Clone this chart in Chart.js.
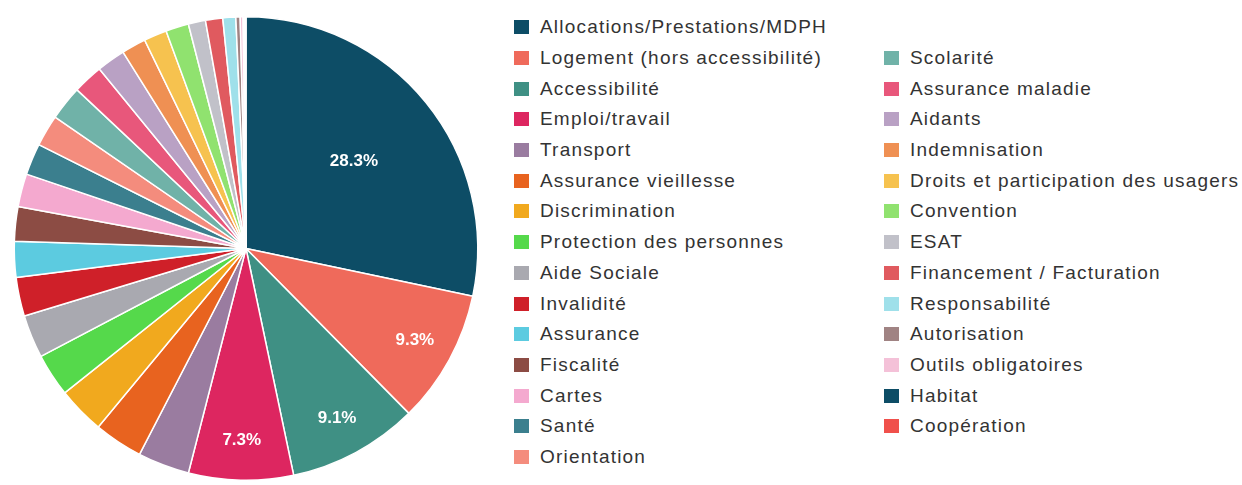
<!DOCTYPE html>
<html>
<head>
<meta charset="utf-8">
<script src="https://cdn.jsdelivr.net/npm/chart.js@4.4.1/dist/chart.umd.min.js"></script>
<style>
  html, body { margin: 0; padding: 0; background: #fff; }
  body { width: 1242px; height: 485px; position: relative; overflow: hidden;
         font-family: "Liberation Sans", Arial, sans-serif; }
  #pie-wrap { position: absolute; left: 0; top: 0; width: 492px; height: 485px; }
  .legend-col { position: absolute; margin: 0; padding: 0; list-style: none; }
  .legend-col li { height: 30.7px; display: flex; align-items: center;
                   font-size: 19px; letter-spacing: 1.2px; color: #333; white-space: nowrap; }
  .legend-col .box { width: 15px; height: 14px; margin-right: 11px; flex: none; }
</style>
</head>
<body>
<div id="pie-wrap"><canvas id="pie"></canvas></div>
<ul class="legend-col" id="col1" style="left:514px; top:12px;"></ul>
<ul class="legend-col" id="col2" style="left:884px; top:42.7px;"></ul>
<script>
// catégories (sens horaire depuis midi)
const categories = [
    'Allocations/Prestations/MDPH', 'Logement (hors accessibilité)', 'Accessibilité',
    'Emploi/travail', 'Transport', 'Assurance vieillesse', 'Discrimination',
    'Protection des personnes', 'Aide Sociale', 'Invalidité', 'Assurance', 'Fiscalité',
    'Cartes', 'Santé', 'Orientation', 'Scolarité', 'Assurance maladie', 'Aidants',
    'Indemnisation', 'Droits et participation des usagers', 'Convention', 'ESAT',
    'Financement / Facturation', 'Responsabilité', 'Autorisation', 'Outils obligatoires',
    'Habitat', 'Coopération'
];

// parts en %
const shares = [
    28.3, 9.3, 9.1, 7.3, 3.6, 3.4, 3.3,
    3.0, 3.0, 2.7, 2.5, 2.4,
    2.3, 2.2, 2.2, 2.4, 2.1, 2.0,
    1.7, 1.6, 1.6, 1.2,
    1.2, 0.9, 0.3, 0.2,
    0.1, 0.1
];

const colors = [
    '#0d4d66', '#ef6a5b', '#3f9084', '#dd2660', '#9a7ca0', '#e8631f', '#f1a91e',
    '#55d94b', '#a9a9b0', '#cf2029', '#5ccbe0', '#8c4c44',
    '#f4a9cf', '#3b7f8e', '#f48c7d', '#70b2a8', '#e8577b', '#b9a1c4',
    '#ef9053', '#f6c24f', '#90e26f', '#c1c1c9',
    '#e05a5f', '#9fe0ea', '#a08383', '#f4c1d8',
    '#0d4d66', '#f0504b'
];

// seules les 4 plus grosses parts ont une étiquette
const labelledCount = 4;

// étiquettes % blanches dans les parts
const pctLabels = {
    id: 'pctLabels',
    afterDatasetsDraw(chart) {
        const ctx = chart.ctx;
        const arcs = chart.getDatasetMeta(0).data;
        ctx.save();
        ctx.fillStyle = '#ffffff';
        ctx.font = 'bold 17px "Liberation Sans", Arial, sans-serif';
        ctx.textAlign = 'center';
        ctx.textBaseline = 'middle';
        for (let i = 0; i < labelledCount; i++) {
            const a = arcs[i];
            const mid = (a.startAngle + a.endAngle) / 2;
            const r = a.outerRadius * (i === 0 ? 0.6 : 0.83);
            ctx.fillText(shares[i].toFixed(1) + '%',
                a.x + Math.cos(mid) * r, a.y + Math.sin(mid) * r);
        }
        ctx.restore();
    }
};

const chart = new Chart(document.getElementById('pie').getContext('2d'), {
    type: 'pie',
    data: {
        labels: categories,
        datasets: [{
            data: shares,
            backgroundColor: colors,
            borderColor: '#ffffff',
            borderWidth: 1.5
        }]
    },
    options: {
        responsive: true,
        maintainAspectRatio: false,
        animation: false,
        layout: { padding: { top: 16, bottom: 4, left: 0, right: 0 } },
        plugins: {
            legend: { display: false },
            tooltip: { enabled: false }
        }
    },
    plugins: [pctLabels]
});

// légende HTML : 15 lignes à gauche, le reste à droite (décalé d'une ligne)
const items = Chart.overrides.pie.plugins.legend.labels.generateLabels(chart);
items.forEach((item, i) => {
    const li = document.createElement('li');
    li.innerHTML = `<span class="box" style="background:${item.fillStyle}"></span>${item.text}`;
    document.getElementById(i < 15 ? 'col1' : 'col2').appendChild(li);
});
</script>
</body>
</html>
